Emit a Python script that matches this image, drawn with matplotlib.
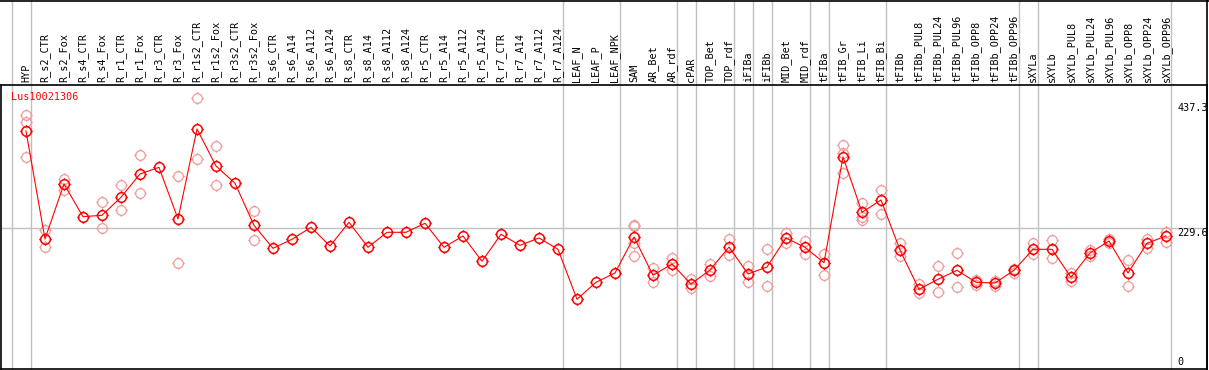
import numpy as np
import matplotlib
matplotlib.use('Agg')
import matplotlib.pyplot as plt
from matplotlib.path import Path
from matplotlib.lines import Line2D

# sample names along the top
samples = ['HYP', 'R_s2_CTR', 'R_s2_Fox', 'R_s4_CTR', 'R_s4_Fox', 'R_r1_CTR', 'R_r1_Fox',
           'R_r3_CTR', 'R_r3_Fox', 'R_r1s2_CTR', 'R_r1s2_Fox', 'R_r3s2_CTR', 'R_r3s2_Fox',
           'R_s6_CTR', 'R_s6_A14', 'R_s6_A112', 'R_s6_A124', 'R_s8_CTR', 'R_s8_A14',
           'R_s8_A112', 'R_s8_A124', 'R_r5_CTR', 'R_r5_A14', 'R_r5_A112', 'R_r5_A124',
           'R_r7_CTR', 'R_r7_A14', 'R_r7_A112', 'R_r7_A124', 'LEAF_N', 'LEAF_P', 'LEAF_NPK',
           'SAM', 'AR_Bet', 'AR_rdf', 'cPAR', 'TOP_Bet', 'TOP_rdf', 'iFIBa', 'iFIBb',
           'MID_Bet', 'MID_rdf', 'tFIBa', 'tFIB_Gr', 'tFIB_Li', 'tFIB_Bi', 'tFIBb',
           'tFIBb_PUL8', 'tFIBb_PUL24', 'tFIBb_PUL96', 'tFIBb_OPP8', 'tFIBb_OPP24',
           'tFIBb_OPP96', 'sXYLa', 'sXYLb', 'sXYLb_PUL8', 'sXYLb_PUL24', 'sXYLb_PUL96',
           'sXYLb_OPP8', 'sXYLb_OPP24', 'sXYLb_OPP96']

# mean expression per sample
means = [384.9, 211.6, 299.8, 247.4, 249.6, 278.5, 315.9, 326.6, 243.7, 388.1,
         328.7, 301.0, 233.5, 196.6, 211.1, 230.3, 200.3, 238.4, 198.2, 222.3,
         222.3, 236.8, 198.2, 216.4, 175.8, 219.1, 201.4, 213.2, 195.0, 114.8,
         142.1, 157.0, 214.8, 153.3, 171.4, 139.3, 161.8, 198.7, 155.4, 166.6,
         213.2, 198.2, 173.5, 343.2, 254.4, 274.2, 193.9, 130.8, 146.9, 161.3,
         142.1, 140.9, 161.3, 195.0, 195.0, 150.1, 189.1, 208.3, 157.0, 204.7,
         216.4]

# individual replicates: sample index and value
rep_idx = [0, 0, 0, 1, 1, 2, 2, 4, 4, 5, 5, 6, 6, 8, 8, 9, 9, 10, 10, 12, 12,
           32, 32, 32, 32, 33, 33, 34, 34, 35, 35, 36, 36, 37, 37, 38, 38,
           39, 39, 40, 40, 41, 41, 42, 42, 43, 43, 43, 44, 44, 44,
           45, 45, 46, 46, 47, 47, 48, 48, 49, 49, 50, 50, 51, 51, 52, 52,
           53, 53, 54, 54, 55, 55, 56, 56, 57, 57, 58, 58, 59, 59, 60, 60]
rep_val = [410.6, 398.9, 342.7, 226.0, 198.2, 307.9, 290.2, 271.2, 229.4,
           297.8, 258.1, 345.9, 284.9, 312.2, 172.6, 437.4, 340.0, 360.8, 297.8,
           256.5, 209.5,
           234.5, 232.9, 204.7, 183.8, 165.5, 142.1, 180.6, 161.8, 146.9, 132.9,
           171.9, 151.7, 211.6, 185.4, 168.2, 142.1,
           195.0, 135.6, 220.7, 204.7, 208.3, 187.5, 187.5, 153.3,
           362.0, 350.1, 317.0, 268.9, 246.9, 242.5,
           290.2, 251.2, 204.7, 183.8, 139.3, 124.4, 168.2, 126.5, 188.6, 134.0,
           145.7, 137.7, 144.6, 136.1, 163.4, 157.5,
           204.7, 187.5, 209.5, 181.1, 157.5, 144.1, 193.4, 184.8, 211.1, 205.6,
           177.4, 136.6, 211.6, 197.6, 222.8, 207.2]

# group separators (a quarter step right of a sample)
sep_after = [-1, 0, 28, 31, 34, 35, 37, 38, 39, 41, 42, 45, 52, 53, 60]
ytick_vals = [437.3, 229.6, 0]
ytick_text = ['437.3', '229.6', '0']
gene = 'Lus10021306'

# circle (as a polygon) with four short ticks, like the original glyph
ang = np.linspace(0, 2 * np.pi, 41)
ring = Path(np.column_stack([np.cos(ang), np.sin(ang)]), closed=True)
ticks = [((1, 0), (1.3, 0)), ((-1, 0), (-1.3, 0)), ((0, 1), (0, 1.3)), ((0, -1), (0, -1.3))]
parts = [ring] + [Path([a, b], [Path.MOVETO, Path.LINETO]) for a, b in ticks]
sun = Path.make_compound_path(*parts)

W, H = 1209, 370
fig = plt.figure(figsize=(W / 100, H / 100), dpi=100)
ax = fig.add_axes([1 / W, 1 / H, 1206 / W, 284 / H])

x = np.arange(len(samples))
ax.set_xlim(-25 / 19, 1181 / 19)
ax.set_ylim(2.9, 458.7)

for s in sep_after:
    ax.axvline(s + 0.25, ymin=-0.01, ymax=1.31, color='#c0c0c0', lw=1, clip_on=False, zorder=1)
ax.axhline(229.6, color='#c0c0c0', lw=1, zorder=1)

ax.plot(rep_idx, rep_val, ls='none', marker=sun, ms=9, mfc='none', mec='#f09a9a',
        mew=0.9, zorder=2)
ax.plot(x, means, color='#ff0000', lw=0.8, marker=sun, ms=9, mfc='none', mec='#ff0000',
        mew=1.1, zorder=3)

mono = 'DejaVu Sans Mono'
ax.xaxis.tick_top()
ax.set_xticks(x)
ax.set_xticklabels(samples, rotation=90, fontsize=7.3, family=mono)
ax.tick_params(axis='x', length=0, pad=2)
ax.set_yticks([])

# value labels on the right edge
offs = [-5, 0, 4]
vas = ['top', 'top', 'bottom']
for v, t, o, va in zip(ytick_vals, ytick_text, offs, vas):
    ax.annotate(t, xy=(60.6, v), xytext=(0, o), textcoords='offset pixels', va=va,
                ha='left', fontsize=7.3, family=mono, annotation_clip=False)

ax.text(10 / 1206, 1 - 12 / 284, gene, transform=ax.transAxes, color='#ff0000',
        fontsize=7.3, family=mono, va='center', ha='left')

for sp in ax.spines.values():
    sp.set_color('black')
    sp.set_linewidth(1.2)

# frame lines outside the axes
fig.add_artist(Line2D([0, 1], [1 - 0.5 / H, 1 - 0.5 / H], color='black', lw=1.2))
fig.add_artist(Line2D([1207 / W, 1207 / W], [0, 1], color='black', lw=1.2))

fig.savefig('out.png', dpi=100)
